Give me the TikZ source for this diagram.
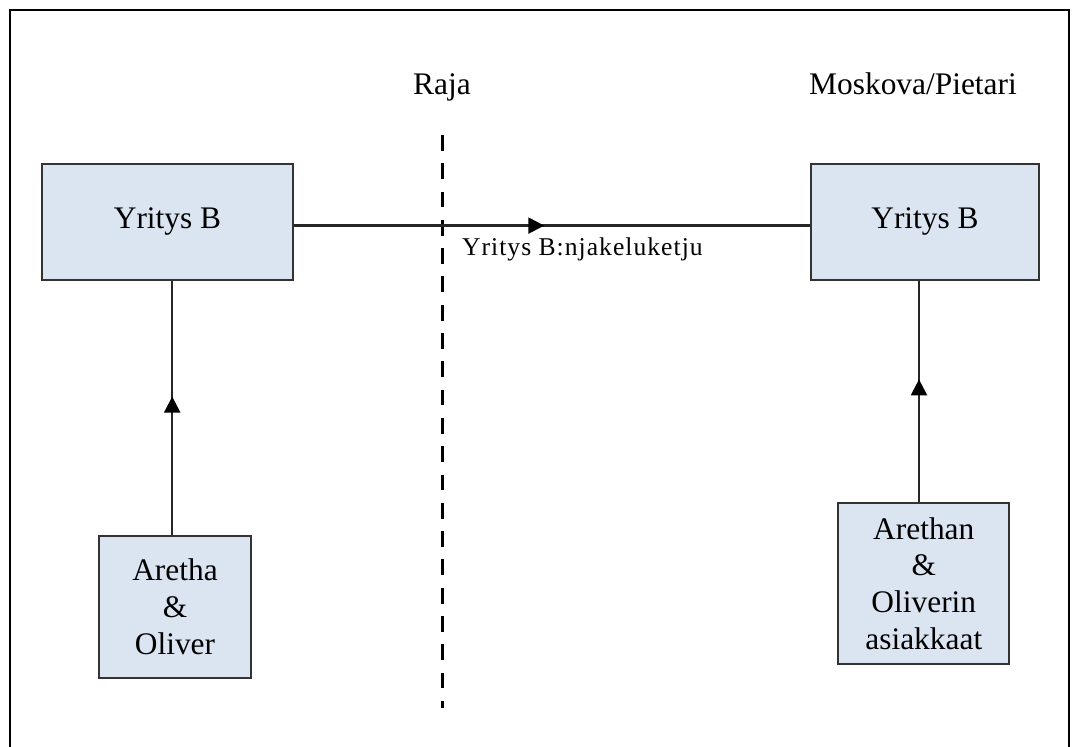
\documentclass[tikz,border=0pt]{standalone}
\usepackage{fontspec}
\setmainfont{Liberation Serif}
\usetikzlibrary{arrows.meta,decorations.markings}

\definecolor{boxfill}{HTML}{DBE5F1}
\tikzset{
  unit/.style={rectangle, draw=black!80, line width=1.1pt, fill=boxfill,
    inner sep=0pt, align=center,
    font=\fontsize{15.7}{18.4}\selectfont},
  caption/.style={font=\fontsize{15.7}{18.4}\selectfont, inner sep=0pt},
  flow/.style={draw=black!85, line width=1.1pt},
  midarrow/.style={postaction={decorate, decoration={markings,
    mark=at position #1 with {\arrow[black]{Triangle[length=8pt,width=8pt]}}}}},
  border/.style={draw=black, line width=1.2pt},
  boundary/.style={draw=black, line width=1.7pt,
    dash pattern=on 7.9pt off 6.25pt}
}

\begin{document}
\begin{tikzpicture}[x=0.5pt, y=-0.5pt]
  \useasboundingbox (0,0) rectangle (1072,747);

  % outer frame, open at the bottom edge
  \draw[border] (10,752) -- (10,10) -- (1069,10) -- (1069,752);

  % column headings
  \node[caption, anchor=base] (raja) at (442,95) {Raja};
  \node[caption, anchor=base] (dest) at (913,95) {Moskova/Pietari};

  % border line
  \coordinate (rajaTop) at (442.3,135);
  \coordinate (rajaBottom) at (442.3,708);
  \draw[boundary] (rajaTop) -- (rajaBottom);

  % companies
  \node[unit, minimum width=125.5pt, minimum height=58pt] (compA) at (167.5,222) {Yritys B};
  \node[unit, minimum width=114pt, minimum height=58pt] (compB) at (925,222) {Yritys B};

  % customers
  \node[unit, minimum width=76pt, minimum height=71pt] (custA) at (175,607) {Aretha\\\&\\Oliver};
  \node[unit, minimum width=85.5pt, minimum height=80.5pt] (custB) at (923.8,583.5) {Arethan\\\&\\Oliverin\\asiakkaat};

  % supply chain
  \draw[flow, midarrow=0.485] ([yshift=-1.8pt]compA.east) -- ([yshift=-1.8pt]compB.west);
  \node[anchor=base west, inner sep=0pt,
    font=\fontsize{12.8}{15}\selectfont\addfontfeature{LetterSpace=4}] (chain)
    at (461.7,256) {Yritys B:njakeluketju};

  \draw[flow, midarrow=0.545] ([xshift=-1.4pt]custA.north) -- ([xshift=-1.4pt]custA.north |- compA.south);
  \draw[flow, midarrow=0.555] ([xshift=-2.4pt]custB.north) -- ([xshift=-2.4pt]custB.north |- compB.south);
\end{tikzpicture}
\end{document}
